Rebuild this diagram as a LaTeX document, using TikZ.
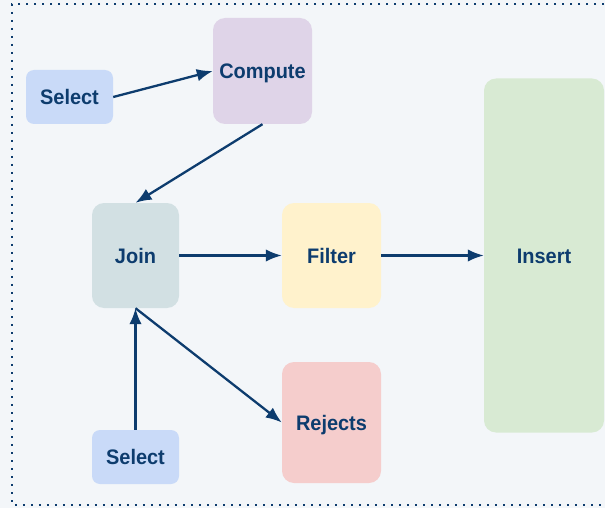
\documentclass[tikz,border=0pt]{standalone}
\usepackage{fontspec}
\setmainfont{Liberation Sans}[FakeStretch=0.95]
\usetikzlibrary{arrows.meta}
\definecolor{bgcol}{HTML}{F3F6F9}
\definecolor{inkcol}{HTML}{0D3C6E}
\definecolor{selectcol}{HTML}{C9DAF8}
\definecolor{computecol}{HTML}{DFD4E8}
\definecolor{joincol}{HTML}{D2E0E3}
\definecolor{filtercol}{HTML}{FFF2CC}
\definecolor{insertcol}{HTML}{D8EAD3}
\definecolor{rejectscol}{HTML}{F5CDCC}
\tikzset{
  box/.style={rectangle, rounded corners=12pt, inner sep=0pt, text=inkcol,
    text height=15pt, text depth=0pt,
    font=\fontsize{21}{24}\selectfont\bfseries},
  link/.style={draw=inkcol, line width=2.3pt, -{Latex[length=16pt,width=12.5pt]}}
}
\begin{document}
\begin{tikzpicture}[x=1pt,y=-1pt]
                    \useasboundingbox (0,0) rectangle (605,508);
                    \fill[bgcol] (0,0) rectangle (605,508);
                    \draw[inkcol, line width=1.8pt, dash pattern=on 1.8pt off 6.2pt] (620,4) -- (12,4) -- (12,505) -- (620,505);
                    \node[box, fill=selectcol, rounded corners=8pt, minimum width=87pt, minimum height=54pt] (select1) at (69.5,97) {Select};
                    \node[box, fill=computecol, minimum width=99pt, minimum height=106pt] (compute) at (262.5,71) {Compute};
                    \node[box, fill=joincol, minimum width=87pt, minimum height=105pt] (join) at (135.5,255.5) {Join};
                    \node[box, fill=filtercol, minimum width=99pt, minimum height=105pt] (filter) at (331.5,255.5) {Filter};
                    \node[box, fill=insertcol, minimum width=120pt, minimum height=354pt] (insert) at (544,255.5) {Insert};
                    \node[box, fill=rejectscol, minimum width=99pt, minimum height=121pt] (rejects) at (331.5,422.5) {Rejects};
                    \node[box, fill=selectcol, rounded corners=8pt, minimum width=87pt, minimum height=54pt] (select2) at (135.5,457) {Select};
                    \draw[link] (select1.east) -- (compute.west);
                    \draw[link] (compute.south) -- (join.north);
                    \draw[link] (join.east) -- (filter.west);
                    \draw[link] (filter.east) -- (insert.west);
                    \draw[link] (select2.north) -- (join.south);
                    \draw[link] (join.south) -- (rejects.west);
                \end{tikzpicture}
\end{document}
